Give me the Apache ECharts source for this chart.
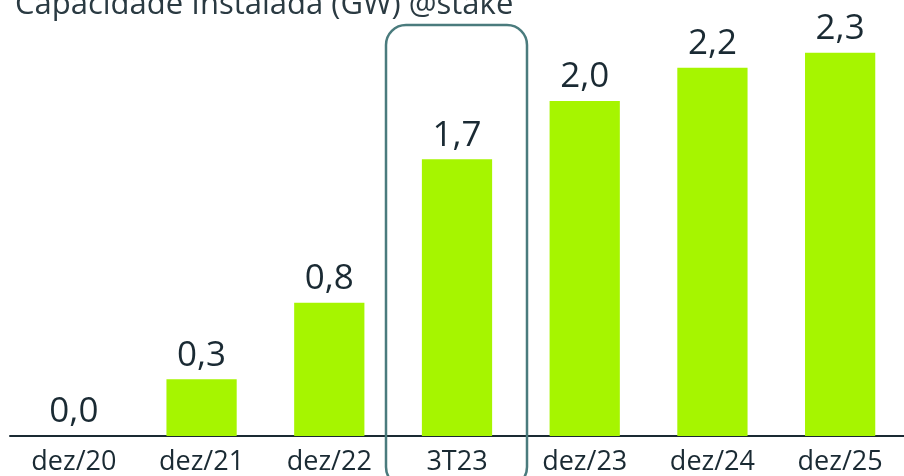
<!DOCTYPE html>
<html>
<head>
<meta charset="utf-8">
<script src="https://cdn.jsdelivr.net/npm/echarts@6/dist/echarts.min.js"></script>
<style>
  html, body { margin: 0; padding: 0; background: #ffffff; }
</style>
</head>
<body>
<div id="main" style="width: 904px;height:476px;"></div>
<script type="text/javascript">
    // categorias e valores (GW)
    var categorias = ['dez/20', 'dez/21', 'dez/22', '3T23', 'dez/23', 'dez/24', 'dez/25'];
    var capacidade = [0.0, 0.34, 0.80, 1.66, 2.01, 2.21, 2.30];

    var myChart = echarts.init(document.getElementById('main'));

    var option = {
        backgroundColor: '#ffffff',
        title: {
            text: 'Capacidade Instalada (GW) @stake',
            left: 15,
            top: -10,
            padding: 0,
            textStyle: {
                fontFamily: 'Open Sans',
                fontSize: 31,
                fontWeight: 'normal',
                color: '#2a3a42'
            }
        },
        grid: {
            left: 10,
            right: -3,
            top: 36,
            bottom: 39,
            containLabel: false
        },
        xAxis: {
            type: 'category',
            data: categorias,
            axisTick: {show: false},
            axisLine: {lineStyle: {color: '#1a2a33', width: 2}},
            axisLabel: {
                fontFamily: 'Open Sans',
                fontSize: 27,
                color: '#1a2a33',
                margin: 13
            }
        },
        yAxis: {
            type: 'value',
            min: 0,
            max: 2.4,
            show: false,
            splitLine: {show: false}
        },
        series: [
            {
                type: 'bar',
                data: capacidade,
                barWidth: '55%',
                itemStyle: {color: '#a6f500'},
                label: {
                    show: true,
                    position: 'top',
                    distance: 6,
                    fontFamily: 'Open Sans',
                    fontSize: 35,
                    color: '#1a2a33',
                    formatter: function (p) {
                        return p.value.toFixed(1).replace('.', ',');
                    }
                }
            }
        ],
        graphic: [
            {
                type: 'rect',
                shape: {x: 386, y: 25, width: 141, height: 462, r: 20},
                style: {fill: 'none', stroke: '#4a7b7d', lineWidth: 2.5},
                z: 10
            }
        ]
    };
    myChart.setOption(option);
</script>
</body>
</html>
